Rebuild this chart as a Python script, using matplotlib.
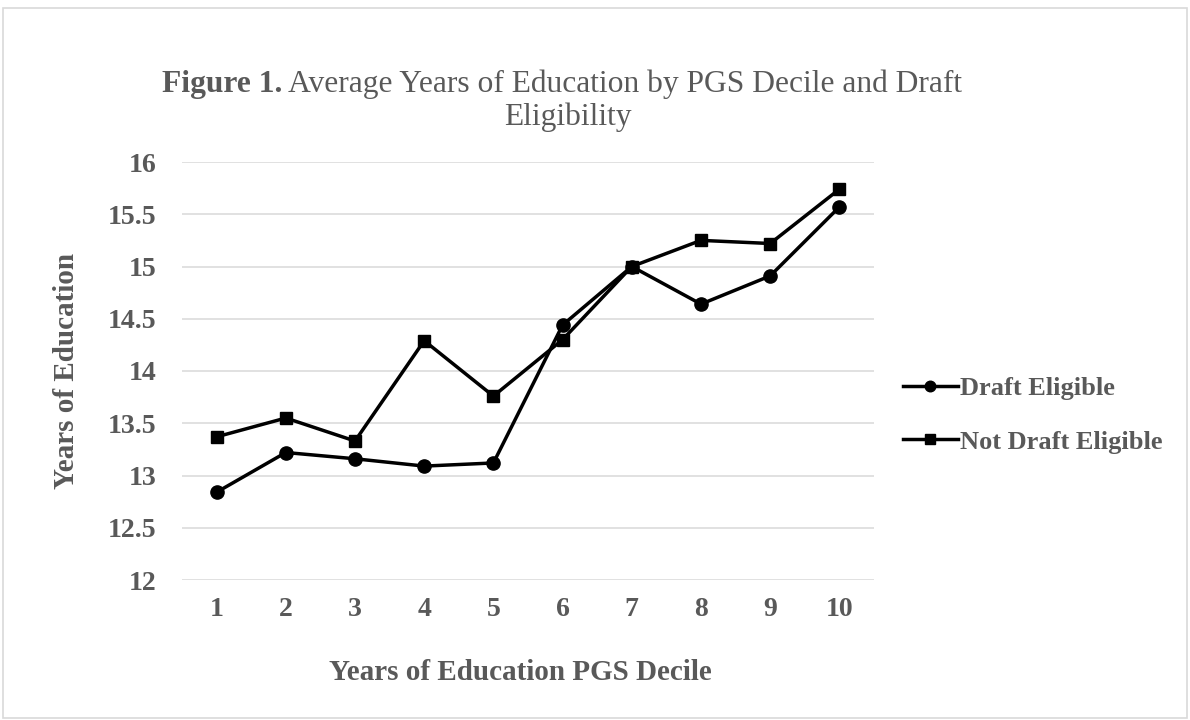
import matplotlib
matplotlib.use("Agg")
import matplotlib.pyplot as plt
from matplotlib.patches import Rectangle

deciles = [1, 2, 3, 4, 5, 6, 7, 8, 9, 10]
draft_eligible = [12.84, 13.22, 13.16, 13.09, 13.12, 14.44, 15.0, 14.64, 14.91, 15.57]
not_draft_eligible = [13.37, 13.55, 13.33, 14.29, 13.76, 14.30, 15.0, 15.25, 15.22, 15.74]
yticks = [12, 12.5, 13, 13.5, 14, 14.5, 15, 15.5, 16]
ytick_labels = ["12", "12.5", "13", "13.5", "14", "14.5", "15", "15.5", "16"]

plt.rcParams['font.family'] = ['Liberation Serif', 'DejaVu Serif']
TXT = '#595959'
W, H = 1190, 720

fig = plt.figure(figsize=(11.9, 7.2), dpi=100)
fig.patches.append(Rectangle((3/W, 2/H), 1184/W, 710/H, transform=fig.transFigure,
                             fill=False, edgecolor='#d9d9d9', linewidth=1.2))

ax = fig.add_axes([182/W, 1 - 580/H, 692/W, 418/H])
x = list(range(len(deciles)))
ax.plot(x, draft_eligible, color='black', lw=2.5, marker='o', ms=9.5, label='Draft Eligible')
ax.plot(x, not_draft_eligible, color='black', lw=2.5, marker='s', ms=9, label='Not Draft Eligible')

ax.set_xlim(-0.5, len(deciles) - 0.5)
ax.set_ylim(12, 16)
ax.set_yticks(yticks)
ax.set_yticklabels(ytick_labels)
ax.set_xticks(x)
ax.set_xticklabels([str(d) for d in deciles])
ax.grid(axis='y', color='#d9d9d9', lw=1.1)
ax.set_axisbelow(True)
for s in ax.spines.values():
    s.set_visible(False)
ax.tick_params(length=0, labelsize=20, labelcolor=TXT)
ax.tick_params(axis='x', pad=12)
ax.tick_params(axis='y', pad=18.5)
for lab in ax.get_xticklabels() + ax.get_yticklabels():
    lab.set_fontweight('bold')

# axis titles
fig.text(520/W, 1 - 680/H, 'Years of Education PGS Decile', fontsize=21, fontweight='bold',
         color=TXT, ha='center', va='baseline')
fig.text(66/W, 1 - 371/H, 'Years of Education', fontsize=21, fontweight='bold',
         color=TXT, ha='center', va='center', rotation=90)

# title (mixed bold / regular)
t1 = fig.text(162/W, 1 - 92/H, 'Figure 1.', fontsize=22.7, fontweight='bold', color=TXT,
              ha='left', va='baseline')
ax.annotate(' Average Years of Education by PGS Decile and Draft', xy=(1, 0), xycoords=t1,
            fontsize=22.7, color=TXT, ha='left', va='bottom', annotation_clip=False)
fig.text(568/W, 1 - 125/H, 'Eligibility', fontsize=22.7, color=TXT, ha='center', va='baseline')

leg = fig.legend(loc='center left', bbox_to_anchor=(903/W, 1 - 415/H), frameon=False,
                 prop={'size': 19, 'weight': 'bold'}, labelspacing=1.15, handlelength=2.08,
                 handletextpad=0.08, borderpad=0, borderaxespad=0, markerscale=0.8)
for t in leg.get_texts():
    t.set_color(TXT)

fig.savefig('out.png', dpi=100)
